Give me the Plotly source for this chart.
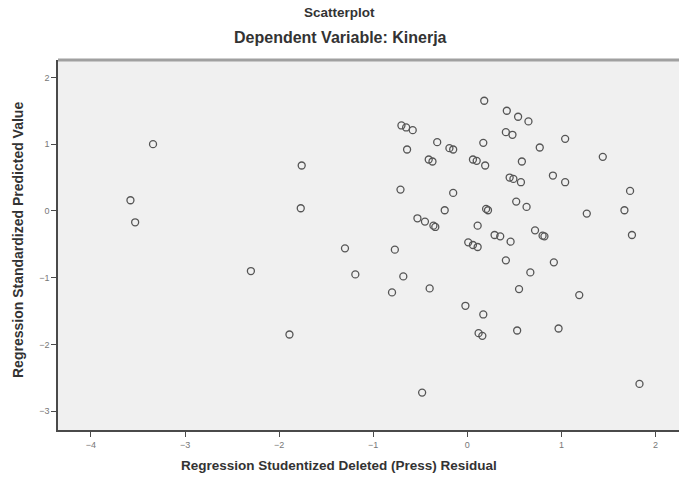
import plotly.graph_objects as go

residual = [-3.34, -3.58, -3.53, -1.76, -1.77, -2.30, -1.89, 0.18, -0.70, -0.65,
            -0.58, -0.32, 0.17, -0.64, -0.19, -0.15, -0.41, -0.37, 0.06, 0.10,
            0.19, -0.71, -0.15, -0.24, 0.20, 0.22, -0.53, -0.45, -0.36, -0.34,
            0.11, 0.01, 0.06, 0.11, -1.30, -0.77, -1.19, -0.68, -0.80, -0.40,
            -0.02, 0.17, 0.12, 0.16, -0.48, 0.42, 0.54, 0.65, 0.41, 0.48,
            0.77, 1.04, 1.44, 0.58, 0.45, 0.49, 0.57, 0.91, 1.04, 1.73,
            0.52, 0.63, 1.27, 1.67, 1.75, 0.29, 0.35, 0.46, 0.72, 0.82,
            0.80, 0.41, 0.92, 0.67, 0.55, 1.19, 0.53, 0.97, 1.83]
predicted = [1.00, 0.16, -0.17, 0.68, 0.04, -0.90, -1.85, 1.65, 1.28, 1.25,
             1.21, 1.03, 1.02, 0.92, 0.94, 0.92, 0.77, 0.74, 0.77, 0.75,
             0.68, 0.32, 0.27, 0.01, 0.03, 0.01, -0.11, -0.16, -0.22, -0.24,
             -0.22, -0.47, -0.51, -0.54, -0.56, -0.58, -0.95, -0.98, -1.22, -1.16,
             -1.42, -1.55, -1.83, -1.87, -2.72, 1.50, 1.41, 1.34, 1.18, 1.14,
             0.95, 1.08, 0.81, 0.74, 0.50, 0.48, 0.43, 0.53, 0.43, 0.30,
             0.14, 0.06, -0.04, 0.01, -0.36, -0.36, -0.38, -0.46, -0.29, -0.38,
             -0.37, -0.74, -0.77, -0.92, -1.17, -1.26, -1.79, -1.76, -2.59]

x_ticks = [-4, -3, -2, -1, 0, 1, 2]
y_ticks = [-3, -2, -1, 0, 1, 2]

title_text = "Scatterplot"
subtitle_text = "Dependent Variable: Kinerja"
x_title = "Regression Studentized Deleted (Press) Residual"
y_title = "Regression Standardized Predicted Value"

fig = go.Figure()
fig.add_trace(go.Scatter(
    x=residual, y=predicted, mode="markers",
    marker=dict(symbol="circle-open", size=7, color="#555555",
                line=dict(width=1.3, color="#555555")),
    showlegend=False, hoverinfo="x+y"))

font_fam = "Liberation Sans, Arial, sans-serif"
axis_common = dict(showgrid=False, zeroline=False, showline=True,
                   linecolor="#4a4a4a", linewidth=1.5, ticks="outside",
                   ticklen=5, tickwidth=1, tickcolor="#4a4a4a",
                   tickfont=dict(family=font_fam, size=9, color="#777777"))

fig.update_layout(
    width=679, height=477,
    margin=dict(l=58, r=0, t=60, b=47),
    paper_bgcolor="white", plot_bgcolor="#f0f0f0",
    xaxis=dict(range=[-4.35, 2.25], tickvals=x_ticks, **axis_common),
    yaxis=dict(range=[-3.28, 2.26], tickvals=y_ticks, **axis_common),
    annotations=[
        dict(text="<b>" + title_text + "</b>", xref="paper", yref="paper",
             x=(339 - 58) / 621, y=(430 - 13) / 370, showarrow=False,
             font=dict(family=font_fam, size=13.5, color="#333333"),
             xanchor="center", yanchor="middle"),
        dict(text="<b>" + subtitle_text + "</b>", xref="paper", yref="paper",
             x=(340 - 58) / 621, y=(430 - 38) / 370, showarrow=False,
             font=dict(family=font_fam, size=16, color="#333333"),
             xanchor="center", yanchor="middle"),
        dict(text="<b>" + x_title + "</b>", xref="paper", yref="paper",
             x=(339 - 58) / 621, y=(430 - 466) / 370, showarrow=False,
             font=dict(family=font_fam, size=13.5, color="#333333"),
             xanchor="center", yanchor="middle"),
        dict(text="<b>" + y_title + "</b>", xref="paper", yref="paper",
             x=(18 - 58) / 621, y=(430 - 240) / 370, showarrow=False,
             textangle=-90,
             font=dict(family=font_fam, size=14, color="#333333"),
             xanchor="center", yanchor="middle"),
    ],
    shapes=[dict(type="line", xref="paper", yref="paper", x0=0, x1=1,
                 y0=1, y1=1, line=dict(color="#a0a0a0", width=3))],
)

fig.write_html("out.html", config={"displayModeBar": False},
               post_script="document.body.style.margin='0';"
                           "document.body.style.overflow='hidden';")
